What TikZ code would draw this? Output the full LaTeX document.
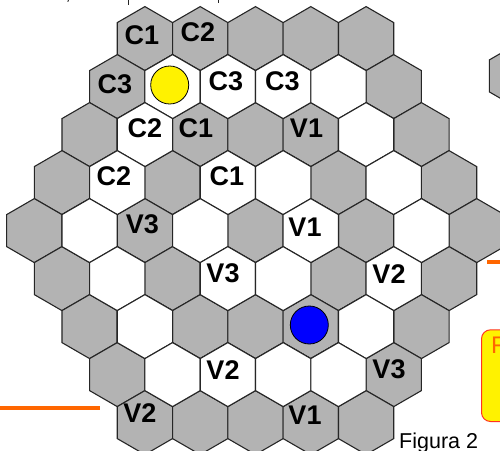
\documentclass[tikz,border=0pt]{standalone}
\usepackage{fontspec}
\setmainfont{Liberation Sans}

\definecolor{hexgray}{RGB}{179,179,179}
\definecolor{hexline}{RGB}{38,38,38}
\definecolor{markorange}{RGB}{255,102,0}
\definecolor{boxborder}{RGB}{255,51,34}

\tikzset{
  hexcell/.pic={
    \path[pic actions] (0,-32) -- (27.65,-16) -- (27.65,16) -- (0,32)
      -- (-27.65,16) -- (-27.65,-16) -- cycle;
  },
  graycell/.style={fill=hexgray, draw=hexline, line width=1.1pt, line join=miter},
  whitecell/.style={fill=white, draw=hexline, line width=1.1pt, line join=miter},
  celltag/.style={inner sep=0pt, font=\fontsize{27}{30}\selectfont\bfseries, text=black},
  stone/.style={draw=black, line width=0.8pt},
  rule/.style={draw=markorange, line width=4.2pt},
}

\begin{document}
\begin{tikzpicture}[x=1pt, y=-1pt]
\useasboundingbox (0,0) rectangle (500,450);
\clip (0,0) rectangle (500,450);

% descenders of the caption line above the board
\draw[hexline, line width=0.9pt] (68.5,0) -- (67.8,1.8);
\draw[hexline, line width=1pt] (128.3,0) -- (128.3,4.5);
\draw[hexline, line width=1pt] (218.3,0) -- (218.3,3);

% board: 9 rows, all cells grey first
\foreach \r/\n in {0/5,1/6,2/7,3/8,4/9,5/8,6/7,7/6,8/5}{
  \foreach \i in {1,...,\n}{
    \pic[graycell] at ({255.5+(\i-(\n+1)/2)*55.3},{38.6+48*\r}) {hexcell};
  }
}

% empty (white) cells
\foreach \r/\n/\i in {1/6/2,1/6/3,1/6/4,1/6/5,
                      2/7/2,2/7/6,
                      3/8/2,3/8/4,3/8/5,3/8/7,
                      4/9/2,4/9/4,4/9/6,4/9/8,
                      5/8/2,5/8/4,5/8/5,5/8/7,
                      6/7/2,6/7/6,
                      7/6/2,7/6/3,7/6/4,7/6/5}{
  \pic[whitecell] at ({255.5+(\i-(\n+1)/2)*55.3},{38.6+48*\r}) {hexcell};
}

% corner of the neighbouring board on the right
\pic[graycell] at (517,75.9) {hexcell};

% stones
\node[stone, circle, fill=yellow, minimum size=38pt, inner sep=0pt] (yellowstone) at (169.7,85) {};
\node[stone, circle, fill=blue, minimum size=38pt, inner sep=0pt] (bluestone) at (309.3,325) {};

% cell tags
\node[celltag] (c1a) at (142,35.5) {C1};
\node[celltag] (c2a) at (198,32.5) {C2};
\node[celltag] (c3a) at (115,84) {C3};
\node[celltag] (c3b) at (226,81) {C3};
\node[celltag] (c3c) at (282.5,81) {C3};
\node[celltag] (c2b) at (145,128) {C2};
\node[celltag] (c1b) at (196,128) {C1};
\node[celltag] (v1a) at (306.5,128) {V1};
\node[celltag] (c2c) at (114,176) {C2};
\node[celltag] (c1c) at (227,176) {C1};
\node[celltag] (v3a) at (142.5,224) {V3};
\node[celltag] (v1b) at (305,227.5) {V1};
\node[celltag] (v3b) at (223,273) {V3};
\node[celltag] (v2a) at (389,274) {V2};
\node[celltag] (v2b) at (223,370) {V2};
\node[celltag] (v3c) at (389,369) {V3};
\node[celltag] (v2c) at (140,413) {V2};
\node[celltag] (v1c) at (305,415) {V1};

% orange rules
\coordinate (ruleLa) at (0,408.3);
\coordinate (ruleLb) at (100,408.3);
\draw[rule] (ruleLa) -- (ruleLb);
\coordinate (ruleRa) at (487,261.7);
\coordinate (ruleRb) at (505,261.7);
\draw[rule] (ruleRa) -- (ruleRb);

% note box on the right edge
\draw[fill=yellow, draw=boxborder, line width=1pt, rounded corners=9pt] (481.5,329.8) rectangle (530,421.5);
\node[anchor=base west, inner sep=0pt, text=markorange, font=\fontsize{24}{28}\selectfont] (notetext) at (490.8,353) {F};

% caption
\node[anchor=base west, inner sep=0pt, font=\fontsize{21.5}{25}\selectfont] (caption) at (399,448.3) {Figura 2};
\end{tikzpicture}
\end{document}
